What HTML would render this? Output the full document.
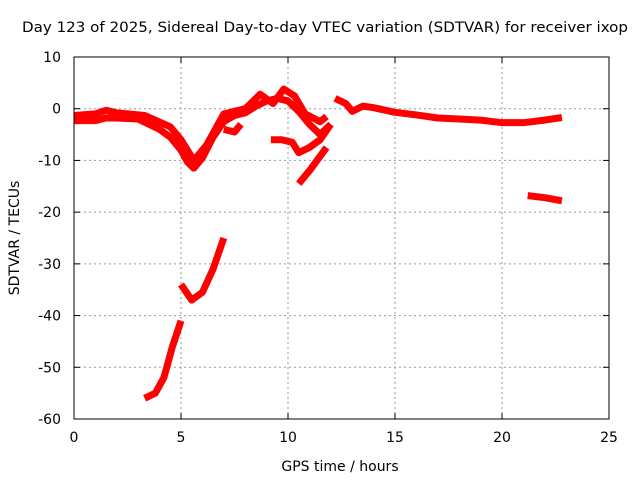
<!DOCTYPE html>
<html><head><meta charset="utf-8"><style>
body{margin:0;background:#fff}
svg{display:block;font-family:"DejaVu Sans","Liberation Sans",sans-serif}
</style></head><body>
<svg id="c" width="640" height="480">
<rect width="640" height="480" fill="#fff"/>
<text x="325" y="32" font-size="14" text-anchor="middle" textLength="606" lengthAdjust="spacingAndGlyphs">Day 123 of 2025, Sidereal Day-to-day VTEC variation (SDTVAR) for receiver ixop</text>
<text x="340" y="471" font-size="14" text-anchor="middle">GPS time / hours</text>
<text transform="translate(19,238) rotate(-90)" font-size="14" text-anchor="middle">SDTVAR / TECUs</text>
<g id="grid"></g><g id="series"></g>
<rect x="74" y="57" width="535" height="362" fill="none" stroke="#000"/>
</svg>
<script>
const xTicks=[0,5,10,15,20,25];
const yTicks=[10,0,-10,-20,-30,-40,-50,-60];
const segMain=[[0,-2.3],[1,-2.3],[1.5,-1.8],[2,-1.8],[3,-2],[3.5,-3],[4,-4],[4.5,-5.5],[5,-8],[5.3,-10.3],[5.6,-11.5],[6,-9.5],[6.5,-5.5],[7,-2.5],[7.5,-1.3],[8,-0.8],[8.5,0.5],[9,1.5],[9.5,2],[10,1.5],[10.5,-0.5],[11,-3],[11.5,-5],[12,-3]];
const segMain2=[[0,-1.3],[1,-1],[1.5,-0.3],[2,-0.8],[3.3,-1.3],[4.5,-3.5],[5,-6],[5.6,-10],[6.2,-7],[7,-1],[8,0],[8.7,2.8],[9.3,1],[9.8,3.8],[10.3,2.5],[10.8,-1],[11.5,-2.5],[11.8,-1.5]];
const segLoop=[[7,-4],[7.5,-4.5],[7.8,-3]];
const segMid=[[9.2,-6],[9.7,-6],[10.2,-6.5],[10.5,-8.5],[11,-7.5],[11.5,-6],[12,-3]];
const segRise=[[10.5,-14.5],[11,-12],[11.8,-7.5]];
const segTail=[[12.2,2],[12.7,1],[13,-0.5],[13.5,0.5],[14,0.2],[15,-0.7],[16,-1.2],[17,-1.8],[18,-2],[19,-2.2],[20,-2.7],[21,-2.7],[22,-2.2],[22.8,-1.7]];
const segF=[[21.2,-16.8],[22,-17.2],[22.8,-17.8]];
const segG=[[5,-34],[5.5,-37],[6,-35.5],[6.5,-31],[7,-25]];
const segH=[[3.3,-56],[3.8,-55],[4.2,-52],[4.6,-46],[5,-41]];
const segments=[segMain,segMain2,segLoop,segMid,segRise,segTail,segF,segG,segH];
const X=v=>74+v*535/25, Y=v=>57+(10-v)*362/70;
const ns="http://www.w3.org/2000/svg", g=document.getElementById('grid'), s=document.getElementById('series');
function mk(tag,a,p){const e=document.createElementNS(ns,tag);for(const k in a)e.setAttribute(k,a[k]);p.appendChild(e);return e;}
xTicks.forEach(t=>{const x=X(t);
 if(t>0&&t<25){const l=mk('line',{x1:x,x2:x,y1:57,y2:419,stroke:'#999','stroke-dasharray':'2,3'},g);
 
 }
 mk('line',{x1:x,x2:x,y1:419,y2:413,stroke:'#000'},g);mk('line',{x1:x,x2:x,y1:57,y2:63,stroke:'#000'},g);
 const tx=mk('text',{x:x,y:442,'font-size':14,'text-anchor':'middle'},g);tx.textContent=t;
 
 });
yTicks.forEach(t=>{const y=Y(t);
 if(t<10&&t>-60){const l=mk('line',{x1:74,x2:609,y1:y,y2:y,stroke:'#999','stroke-dasharray':'2,3'},g);
 
 }
 mk('line',{x1:74,x2:80,y1:y,y2:y,stroke:'#000'},g);mk('line',{x1:609,x2:603,y1:y,y2:y,stroke:'#000'},g);
 const tx=mk('text',{x:61,y:y+5,'font-size':14,'text-anchor':'end'},g);tx.textContent=t;
 
 });
segments.forEach(seg=>{const p=mk('polyline',{points:seg.map(d=>X(d[0])+','+Y(d[1])).join(' '),fill:'none',stroke:'#f00','stroke-width':7,'stroke-linejoin':'round'},s);
 
 });
</script>
</body></html>
